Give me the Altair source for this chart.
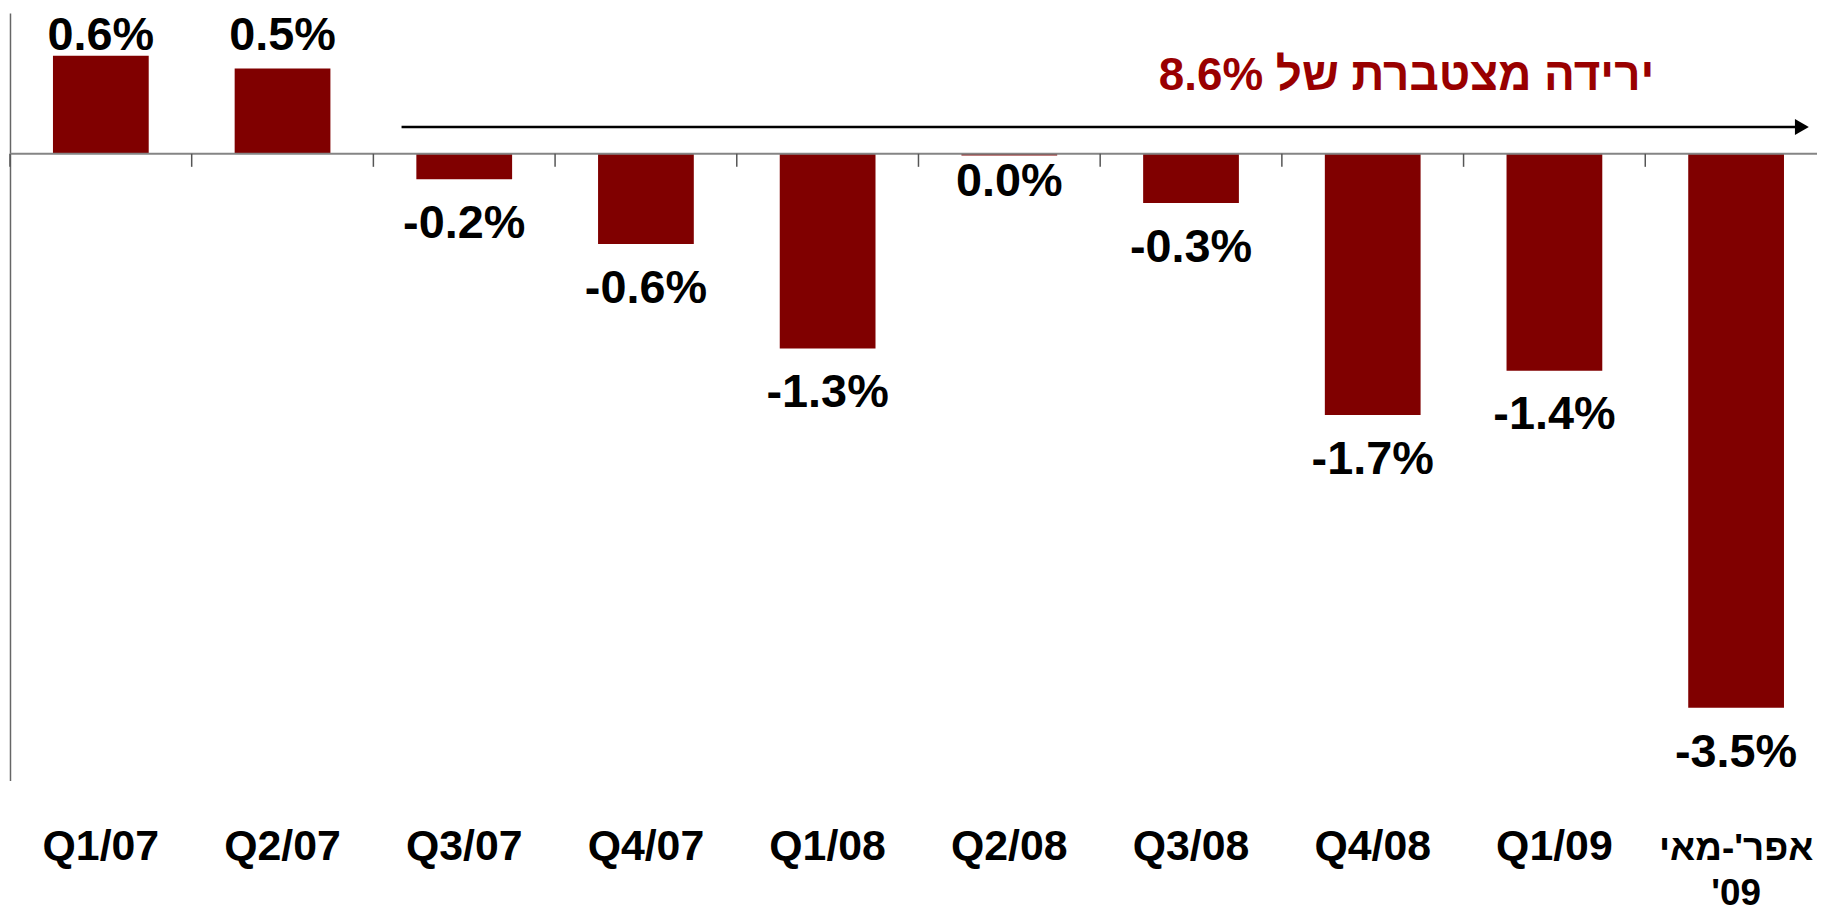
import altair as alt
import pandas as pd

# ---- data ----
categories = ["Q1/07", "Q2/07", "Q3/07", "Q4/07", "Q1/08", "Q2/08",
              "Q3/08", "Q4/08", "Q1/09", "אפר'-מאי\n'09"]
values = [0.62, 0.54, -0.16, -0.57, -1.23, -0.01, -0.31, -1.65, -1.37, -3.50]
value_labels = ["0.6%", "0.5%", "-0.2%", "-0.6%", "-1.3%", "0.0%",
                "-0.3%", "-1.7%", "-1.4%", "-3.5%"]
annotation_text = "\u202bירידה מצטברת של 8.6%\u202c"
annotation_level = 0.404
arrow_level = 0.17
y_domain = [-3.96, 0.89]

df = pd.DataFrame({"cat": categories, "value": values, "label": value_labels})
one = pd.DataFrame({"k": [0]})

FONT = "Liberation Sans"
BAR = "#800000"

xenc = alt.X(
    "cat:N", sort=categories, title=None,
    scale=alt.Scale(paddingInner=0, paddingOuter=0, range=[0, 1825]),
    axis=alt.Axis(
        orient="bottom", domain=False, ticks=False, tickSize=0, grid=False,
        labelAngle=0, labelFont=FONT,
        labelFontSize={"condition": {"test": "indexof(datum.label, '\\n') >= 0",
                                     "value": 37}, "value": 43},
        labelFontWeight="bold",
        labelColor="black", labelBaseline="alphabetic", labelPadding=79,
        labelLineHeight=45, labelOverlap=False, labelFlush=False, labelBound=False,
        labelLimit=600, labelExpr="split(datum.label, '\\n')",
    ),
)
yenc = alt.Y(
    "value:Q", title=None,
    scale=alt.Scale(domain=y_domain, nice=False, zero=False),
    axis=alt.Axis(labels=False, ticks=False, grid=False, domain=True,
                  domainColor="#666666", domainWidth=1.5),
)

bars = alt.Chart(df).mark_bar(color=BAR, width=alt.RelativeBandSize(0.527)).encode(
    x=xenc, y=yenc, y2=alt.datum(0)
)

zero_line = alt.Chart(one).mark_rule(color="#858585", strokeWidth=2).encode(
    y=alt.datum(0)
)

ticks = alt.Chart(df).mark_rule(color="#555555", strokeWidth=1.5).encode(
    x=alt.X("cat:N", sort=categories, bandPosition=0, title=None),
    y=alt.datum(0), y2=alt.datum(-0.082),
)

text_style = dict(font=FONT, fontSize=47, fontWeight="bold", color="black",
                  baseline="alphabetic", align="center")

neg_labels = alt.Chart(df).transform_filter("datum.value < -0.05").mark_text(
    dy=59, **text_style
).encode(x=alt.X("cat:N", sort=categories, title=None),
         y=alt.Y("value:Q", title=None), text="label:N")

zero_labels = alt.Chart(df).transform_filter("abs(datum.value) <= 0.05").mark_text(
    dy=41, **text_style
).encode(x=alt.X("cat:N", sort=categories, title=None),
         y=alt.Y("value:Q", title=None), text="label:N")

pos_labels = alt.Chart(df).transform_filter("datum.value > 0.05").transform_joinaggregate(
    top="max(value)"
).mark_text(dy=-6, **text_style).encode(
    x=alt.X("cat:N", sort=categories, title=None),
    y=alt.Y("top:Q", title=None), text="label:N")

arrow = alt.Chart(one).mark_rule(color="black", strokeWidth=2.5).encode(
    x=alt.XDatum(categories[2], bandPosition=0.155),
    x2=alt.X2Datum(categories[9], bandPosition=0.846),
    y=alt.datum(arrow_level),
)

arrow_head = alt.Chart(one).mark_point(
    shape="triangle-right", filled=True, size=260, color="black", opacity=1
).encode(
    x=alt.XDatum(categories[9], bandPosition=0.862),
    y=alt.datum(arrow_level),
)

annotation = alt.Chart(one).mark_text(
    align="right", baseline="alphabetic", font=FONT, fontSize=46,
    fontWeight="bold", color="#990000"
).encode(
    x=alt.XDatum(categories[9], bandPosition=0.05),
    y=alt.datum(annotation_level),
    text=alt.value(annotation_text),
)

chart = alt.layer(
    bars, zero_line, ticks, neg_labels, zero_labels, pos_labels,
    arrow, arrow_head, annotation
).properties(
    width=1815, height=771,
    autosize=alt.AutoSizeParams(type="none"),
    padding={"left": 2, "top": 3, "right": 0, "bottom": 134},
    background="white",
).configure_view(stroke=None)

chart.save("out.html", embed_options={"renderer": "svg", "actions": False})
